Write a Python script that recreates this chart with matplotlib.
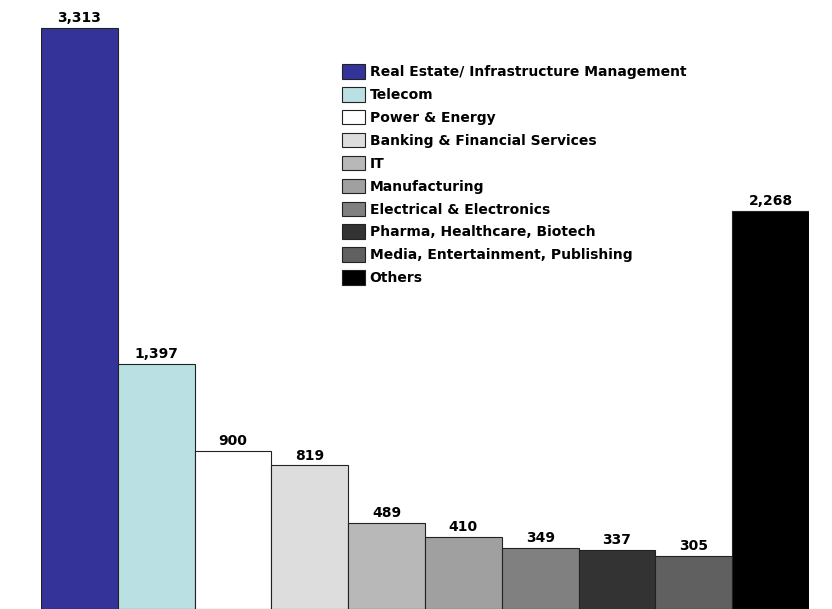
import matplotlib
matplotlib.use("Agg")
import matplotlib.pyplot as plt

categories = [
    "Real Estate/ Infrastructure Management",
    "Telecom",
    "Power & Energy",
    "Banking & Financial Services",
    "IT",
    "Manufacturing",
    "Electrical & Electronics",
    "Pharma, Healthcare, Biotech",
    "Media, Entertainment, Publishing",
    "Others",
]
values = [3313, 1397, 900, 819, 489, 410, 349, 337, 305, 2268]
colors = ["#333399", "#BBE0E3", "#FFFFFF", "#DDDDDD", "#B8B8B8",
          "#A0A0A0", "#808080", "#333333", "#606060", "#000000"]

plt.rcParams["font.family"] = ["DejaVu Sans"]

fig = plt.figure(figsize=(8.32, 6.09), dpi=100)
ax = fig.add_axes([41 / 832, 0, 768 / 832, 1])

x = list(range(len(values)))
bars = ax.bar(x, values, width=1.0, color=colors, edgecolor="#222222",
              linewidth=0.8, label=categories)
bars_list = list(bars)
for b, v in zip(bars_list, values):
    ax.annotate(f"{v:,}", (b.get_x() + b.get_width() / 2, v),
                xytext=(0, 2), textcoords="offset points",
                ha="center", va="bottom", fontsize=10, fontweight="bold")

ax.set_xlim(-0.5, 9.5)
ax.set_ylim(0, 3472)
ax.axis("off")

leg = fig.legend(bars_list, categories, loc="upper left",
                 bbox_to_anchor=(335 / 832, 1 - 57 / 609), frameon=False,
                 prop={"weight": "bold", "size": 10},
                 handlelength=1.65, handleheight=1.25, handletextpad=0.35,
                 labelspacing=0.57, borderpad=0)

fig.savefig("out.png", dpi=100)
